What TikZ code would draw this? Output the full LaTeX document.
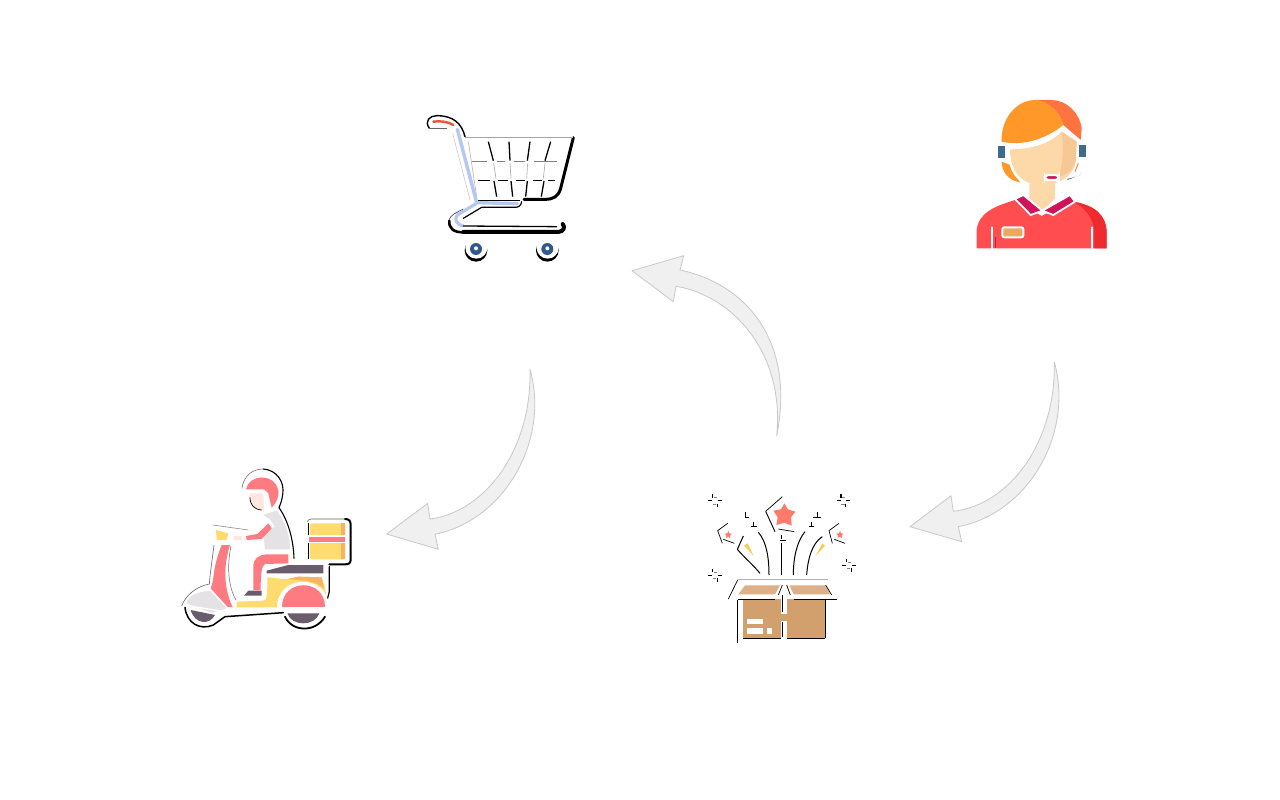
\documentclass[tikz,border=0pt]{standalone}
\definecolor{arrowfill}{HTML}{F0F0F0}
\definecolor{arrowline}{HTML}{C8C8C8}
\definecolor{cartblue}{HTML}{B4C8F2}
\definecolor{cartred}{HTML}{EE5535}
\definecolor{wheelblue}{HTML}{2F5A8C}
\definecolor{hairA}{HTML}{FF9829}
\definecolor{hairB}{HTML}{FF7340}
\definecolor{skinA}{HTML}{FDD8A8}
\definecolor{skinB}{HTML}{F5C896}
\definecolor{phone}{HTML}{3F6B8E}
\definecolor{crimson}{HTML}{D0145A}
\definecolor{shirtA}{HTML}{FF4D50}
\definecolor{shirtB}{HTML}{EF2B2F}
\definecolor{badge}{HTML}{EDA860}
\definecolor{scRed}{HTML}{FF7B82}
\definecolor{scYellow}{HTML}{FFDB70}
\definecolor{scOrange}{HTML}{F8B35C}
\definecolor{scGrey}{HTML}{E4E2E5}
\definecolor{scDark}{HTML}{6A5C6C}
\definecolor{scFace}{HTML}{FFE6DE}
\definecolor{boxA}{HTML}{D1A06C}
\definecolor{boxB}{HTML}{DEB08A}
\definecolor{starRed}{HTML}{FF7A6A}
\definecolor{sparkY}{HTML}{F8CC5C}
\tikzset{
  blockarrow/.style={fill=arrowfill,draw=arrowline,line width=0.8pt,line join=round},
  icon/.style={scale=0.33333},
  inkline/.style={draw=black,line width=1.3pt,line cap=butt},
  inkthin/.style={draw=black,line width=0.7pt},
  shadowstroke/.style={draw=black,line cap=round,line join=round},
  whitestroke/.style={draw=white,line cap=round,line join=round}
}
\newcommand{\sparkmark}[2]{%
  \begin{scope}[shift={(#1,#2)}]
    \draw[draw=black,line width=1.2pt] (-7,-20)--(-7,-9) (-20,0)--(-8,0) (8,0)--(20,0) (7,9)--(7,20);
    \draw[draw=gray,line width=0.7pt] (-4,-10)--(6,-10) (-6,10)--(4,10);
  \end{scope}}
\begin{document}
\begin{tikzpicture}[x=1pt,y=-1pt]
\useasboundingbox (0,0) rectangle (1280,800);
\fill[white] (0,0) rectangle (1280,800);

%% block arrows
\draw[blockarrow] (776.7,435.7) .. controls (795,345) and (750,285) .. (680,270)
  -- (683.7,255.7) -- (632,270.7) -- (673.3,301.7) -- (676,286.3)
  .. controls (730,295) and (785,350) .. (776.7,435.7) -- cycle;
\draw[blockarrow] (530,369.3) .. controls (550,440) and (505,520) .. (435,534.3)
  -- (438.3,549.3) -- (386.7,534) -- (427.7,503.3) -- (430,519)
  .. controls (485,512) and (532,450) .. (530,369.3) -- cycle;
\draw[blockarrow] (1054.3,362) .. controls (1074,433) and (1029,513) .. (958.3,526.7)
  -- (961.7,541.7) -- (910,526.7) -- (951,495.7) -- (953.3,511.3)
  .. controls (1009,505) and (1056,443) .. (1054.3,362) -- cycle;

%% shopping cart
\begin{scope}[shift={(410,100)},icon]
  \draw[shadowstroke,line width=4pt] (160,396) -- (445,396) .. controls (462,394) and (466,382) .. (458,372);
  \draw[shadowstroke,line width=2.6pt] (118,362) .. controls (116,385) and (130,397) .. (160,397);
  \draw[draw=black!70,line width=0.7pt] (118,358) .. controls (122,345) and (135,340) .. (160,327);
  \draw[shadowstroke,line width=3pt] (490,113) -- (452,265) .. controls (445,290) and (430,298) .. (405,298) -- (342,298);
  \draw[shadowstroke,line width=1.2pt] (335,305) .. controls (333,318) and (325,322) .. (315,322) -- (215,322) -- (160,355);
  \draw[shadowstroke,line width=1.4pt] (58,85) .. controls (42,62) and (60,47) .. (80,47) .. controls (130,47) and (155,70) .. (165,110);
  \draw[draw=black!60,line width=0.7pt] (58,85) -- (110,85);
  \draw[draw=gray!70,line width=0.7pt] (166,112) -- (490,112);
  \draw[draw=gray!50,line width=0.5pt] (128,100) -- (180,300);
  \foreach \a/\b in {235/250,297/300,360/352,422/405}{\draw[inkline] (\a,125) -- (\b,182);}
  \foreach \a/\b in {252/260,303/308,352/347,402/394}{\draw[inkline] (\a,243) -- (\b,290);}
  \foreach \a/\b in {251/258,300/303,353/350,405/400}{\draw[draw=gray!70,line width=0.6pt] (\a,190) -- (\b,235);}
  \draw[draw=gray,line width=0.7pt] (185,184) -- (230,184) (262,184) -- (285,184) (312,184) -- (345,184) (372,184) -- (440,184);
  \draw[inkline,line width=1pt] (205,243) -- (240,243) (265,243) -- (295,243) (318,243) -- (345,243) (370,243) -- (395,243) (415,243) -- (435,243);
  \draw[draw=gray!60,line width=0.6pt] (175,125) -- (200,290);
  \draw[draw=black,line width=0.6pt] (205,300) -- (330,300);
  \draw[draw=cartblue,line width=3.4pt,line join=round,line cap=round] (142,88) -- (200,308) -- (322,311);
  \draw[draw=cartblue,line width=3.2pt,line join=round] (200,310) -- (142,345) .. controls (132,355) and (138,375) .. (160,377);
  \draw[draw=black,line width=1.3pt,line cap=round] (160,378) -- (440,380);
  \draw[draw=cartred,line width=2.4pt,line cap=round] (70,65) .. controls (90,62) and (115,65) .. (130,75);
  \foreach \cx/\cy in {198/447,412/447}{
    \fill[black] (\cx,\cy+4) circle[radius=34];
    \fill[white] (\cx+1,\cy-4) circle[radius=33];
    \fill[wheelblue] (\cx,\cy) circle[radius=18];
    \fill[white] (\cx,\cy-2) circle[radius=6];
  }
\end{scope}

%% agent
\begin{scope}[shift={(960,90)},icon]
  \fill[hairA] (125,215) .. controls (125,240) and (140,270) .. (180,277) -- (150,225) -- cycle;
  \fill[shirtA] (50,475) -- (50,420) .. controls (55,370) and (100,350) .. (165,330) -- (245,378) -- (330,332) .. controls (400,345) and (440,375) .. (440,430) -- (440,475) -- cycle;
  \fill[shirtB] (338,335) .. controls (405,345) and (440,375) .. (440,430) -- (440,475) -- (403,475) -- (403,425) .. controls (400,385) and (375,350) .. (338,335) -- cycle;
  \draw[whitestroke,line width=1.8pt] (97,412) -- (97,476) (397,412) -- (397,476);
  \draw[draw=crimson,line width=0.7pt] (105,440) -- (105,475);
  \filldraw[fill=badge,draw=white,line width=2pt,rounded corners=2pt] (127,412) rectangle (190,442);
  \fill[skinA] (208,280) -- (285,280) -- (285,325) -- (247,362) -- (208,325) -- cycle;
  \filldraw[fill=crimson,draw=white,line width=1.8pt,line join=round] (165,327) -- (190,315) -- (247,362) -- (212,375) -- cycle;
  \filldraw[fill=crimson,draw=white,line width=1.8pt,line join=round] (330,315) -- (345,335) -- (280,375) -- (247,362) -- cycle;
  \fill[phone] (115,167) rectangle (135,205);
  \fill[phone] (358,165) rectangle (378,202);
  \fill[skinA] (150,178) .. controls (220,178) and (270,160) .. (305,125) -- (350,155) -- (348,210) .. controls (340,260) and (300,285) .. (245,285) .. controls (190,285) and (150,250) .. (150,178) -- cycle;
  \fill[skinB] (305,125) -- (350,155) -- (348,205) .. controls (345,235) and (320,255) .. (295,262) .. controls (310,220) and (312,170) .. (305,125) -- cycle;
  \fill[hairB] (225,30) -- (275,30) .. controls (320,30) and (360,70) .. (365,115) -- (362,150) -- (310,105) .. controls (300,65) and (265,35) .. (225,30) -- cycle;
  \fill[hairA] (125,155) .. controls (122,85) and (170,30) .. (225,30) .. controls (265,35) and (300,65) .. (310,105) .. controls (260,145) and (190,170) .. (125,155) -- cycle;
  \draw[whitestroke,line width=2pt] (122,160) .. controls (190,178) and (265,155) .. (310,112) -- (360,152);
  \draw[whitestroke,line width=1.8pt] (147,175) .. controls (145,225) and (160,265) .. (200,280);
  \draw[whitestroke,line width=1.8pt] (354,155) -- (352,215);
  \draw[draw=hairB,line width=0.8pt] (355,220) -- (345,245);
  \draw[draw=phone,line width=1pt] (322,268) .. controls (340,265) and (355,260) .. (362,248);
  \draw[whitestroke,line width=1.6pt] (290,275) .. controls (330,280) and (365,260) .. (378,215);
  \filldraw[fill=crimson,draw=white,line width=2.4pt,rounded corners=3pt] (255,255) rectangle (296,270);
\end{scope}

%% scooter
\begin{scope}[shift={(170,460)},icon]
  % silhouette edges
  \draw[draw=black!55,line width=0.6pt] (216,85) .. controls (222,40) and (255,27) .. (280,27);
  \draw[shadowstroke,line width=1.1pt] (280,27) .. controls (320,30) and (345,65) .. (338,105) .. controls (335,125) and (330,135) .. (327,143) .. controls (350,175) and (370,230) .. (372,295);
  \draw[shadowstroke,line width=2pt] (525,177) .. controls (538,177) and (542,183) .. (542,195) -- (542,300) .. controls (542,310) and (535,313) .. (525,313) -- (478,313);
  \draw[draw=black!60,line width=0.6pt] (412,185) .. controls (414,180) and (418,177) .. (425,177) -- (525,177);
  \draw[shadowstroke,line width=1.2pt] (478,320) -- (478,395) -- (470,425);
  \draw[shadowstroke,line width=1.5pt] (45,442) .. controls (50,490) and (90,512) .. (130,495) -- (165,470) -- (340,458);
  \draw[shadowstroke,line width=1.8pt] (345,470) .. controls (365,515) and (435,520) .. (465,470);
  \draw[draw=black!60,line width=0.6pt] (35,438) .. controls (45,410) and (75,380) .. (118,372) .. controls (120,340) and (128,290) .. (132,255);
  \draw[draw=black!45,line width=0.6pt] (128,195) -- (235,210);
  % rider
  \fill[scRed] (228,88) .. controls (235,45) and (310,35) .. (325,90) .. controls (328,110) and (318,130) .. (305,143) -- (295,100) -- (282,88) -- cycle;
  \fill[scFace] (240,100) -- (280,100) -- (282,150) -- (262,150) .. controls (248,145) and (238,125) .. (240,100) -- cycle;
  \draw[draw=black,line width=0.7pt] (240,112) .. controls (240,135) and (252,148) .. (275,150);
  \fill[scGrey] (280,165) -- (320,152) .. controls (345,185) and (360,225) .. (360,268) -- (285,268) -- (280,220) -- (315,200) -- (300,178) -- cycle;
  \fill[scRed] (230,240) -- (228,228) -- (262,222) -- (295,190) -- (305,205) -- (275,237) -- cycle;
  \fill[scFace] (192,228) rectangle (215,240);
  \fill[scRed] (355,283) -- (355,310) -- (285,312) .. controls (275,320) and (272,335) .. (272,390) -- (250,390) -- (250,320) .. controls (250,295) and (265,285) .. (290,283) -- cycle;
  \fill[scDark] (222,407) -- (235,392) -- (275,392) -- (275,407) -- cycle;
  % delivery box
  \fill[scYellow,rounded corners=2pt] (420,190) -- (525,190) -- (525,298) -- (420,298) -- cycle;
  \fill[scOrange] (512,190) rectangle (525,298);
  \fill[white] (415,225) rectangle (527,250);
  \fill[scRed] (418,232) rectangle (525,245);
  \draw[draw=black,line width=0.8pt] (416,190) -- (416,225) (416,250) -- (416,298);
  % seat and body
  \fill[scDark] (290,340) -- (290,332) -- (355,315) -- (460,315) -- (460,340) -- cycle;
  \fill[scYellow] (200,425) -- (280,422) .. controls (292,422) and (292,400) .. (292,352) -- (350,358) -- (385,350) -- (455,352) .. controls (465,380) and (470,400) .. (470,440) -- (335,442) -- (200,442) -- cycle;
  \fill[scOrange] (385,350) -- (455,352) -- (462,385) .. controls (440,365) and (410,360) .. (350,358) -- cycle;
  \fill[white] (322,445) .. controls (322,340) and (478,340) .. (478,445) -- cycle;
  \fill[scRed] (335,440) .. controls (335,353) and (465,353) .. (465,440) -- cycle;
  \fill[scDark] (352,460) .. controls (365,500) and (435,500) .. (448,460) -- cycle;
  % front of scooter
  \fill[scDark] (62,450) -- (135,465) .. controls (120,495) and (75,495) .. (62,450) -- cycle;
  \fill[scGrey] (50,430) .. controls (55,405) and (85,395) .. (120,393) -- (170,445) -- (155,450) -- (125,458) -- cycle;
  \draw[whitestroke,line width=1.3pt] (50,437) -- (170,455);
  \fill[scRed] (122,385) .. controls (135,355) and (125,330) .. (155,255) -- (180,255) .. controls (160,320) and (160,380) .. (188,442) -- (172,440) -- cycle;
  \draw[draw=black!60,line width=0.5pt] (183,258) .. controls (170,320) and (175,380) .. (198,420);
  \fill[scYellow] (138,210) -- (175,220) -- (170,240) -- (140,240) -- cycle;
\end{scope}

%% gift box
\begin{scope}[shift={(695,480)},icon]
  \fill[boxA] (145,358) rectangle (258,475);
  \fill[boxA] (276,358) rectangle (390,475);
  \fill[boxA] (258,402) rectangle (276,422);
  \fill[boxB] (130,343) -- (150,316) -- (255,316) -- (240,343) -- cycle;
  \fill[boxB] (283,316) -- (392,316) -- (405,343) -- (296,343) -- cycle;
  \fill[white] (155,417) rectangle (203,432);
  \fill[white] (155,445) rectangle (203,461);
  \fill[white] (215,445) rectangle (232,461);
  \draw[draw=black,line width=1pt] (128,360) -- (128,488);
  \draw[draw=black,line width=1pt] (390,358) -- (390,475);
  \draw[draw=black,line width=0.7pt] (145,475) -- (258,475) (276,475) -- (390,475);
  \draw[draw=black,line width=0.7pt] (100,357) -- (128,300) (250,345) -- (262,315) (275,315) -- (286,345) (392,315) -- (410,345);
  \draw[draw=black,line width=0.5pt] (130,357) -- (240,357) (298,357) -- (425,357);
  \draw[draw=gray!60,line width=0.5pt] (128,298) -- (400,298);
  \draw[draw=black,line width=0.8pt] (262,345) -- (262,395) (262,425) -- (262,470);
  % stars
  \fill[starRed] (268,70) -- (279,88) -- (301,95) -- (288,112) -- (290,137) -- (268,128) -- (244,135) -- (248,112) -- (235,92) -- (258,88) -- cycle;
  \draw[draw=black,line width=0.9pt] (212,94) -- (240,155);
  \draw[draw=black,line width=0.7pt] (212,94) -- (262,50) (250,147) -- (298,155);
  \fill[starRed] (100,152) -- (103,160) -- (110,161) -- (105,167) -- (106,174) -- (100,170) -- (93,174) -- (94,167) -- (89,161) -- (97,160) -- cycle;
  \fill[starRed] (435,152) -- (438,160) -- (445,161) -- (440,167) -- (441,174) -- (435,170) -- (428,174) -- (429,167) -- (424,161) -- (432,160) -- cycle;
  \draw[draw=black,line width=0.7pt] (68,152) -- (98,130) (68,152) -- (82,190) (85,178) -- (118,190);
  \draw[draw=black,line width=0.7pt] (402,152) -- (432,130) (402,152) -- (412,190) (418,178) -- (450,190);
  % sprays
  \draw[draw=black,line width=1pt] (190,157) .. controls (215,185) and (222,235) .. (222,285);
  \draw[draw=black,line width=1pt] (260,190) -- (260,285);
  \draw[draw=black,line width=1pt] (330,155) .. controls (305,185) and (295,235) .. (295,285);
  \draw[draw=black,line width=1pt] (382,170) .. controls (350,190) and (338,240) .. (335,285);
  \draw[draw=black,line width=1pt] (127,208) -- (145,168) (127,208) .. controls (150,235) and (175,255) .. (195,280);
  \fill[sparkY] (147,197) -- (158,190) -- (176,228) -- cycle;
  \fill[sparkY] (362,228) -- (382,190) -- (390,197) -- cycle;
  \draw[draw=black,line width=0.8pt] (152,97) -- (152,110) (150,112) -- (162,112) (175,127) -- (175,140) (168,140) -- (185,140);
  \draw[draw=black,line width=0.8pt] (367,97) -- (367,110) (355,112) -- (378,112) (350,127) -- (350,140) (342,140) -- (358,140);
  \draw[draw=black,line width=0.8pt] (258,165) -- (258,178) (255,180) -- (272,180);
  \sparkmark{60}{62}
  \sparkmark{445}{62}
  \sparkmark{60}{286}
  \sparkmark{462}{256}
\end{scope}
\end{tikzpicture}
\end{document}
